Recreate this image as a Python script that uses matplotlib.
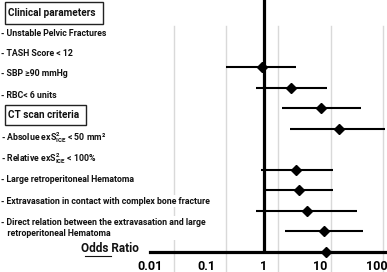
import matplotlib
matplotlib.use("Agg")
import matplotlib.pyplot as plt
from matplotlib.lines import Line2D
from matplotlib.patches import Rectangle

plt.rcParams['font.family'] = ['Roboto', 'DejaVu Sans']
plt.rcParams['font.weight'] = 'bold'
plt.rcParams['mathtext.fontset'] = 'custom'
plt.rcParams['mathtext.rm'] = 'Roboto:bold'
plt.rcParams['mathtext.it'] = 'Roboto:bold'
plt.rcParams['mathtext.bf'] = 'Roboto:bold'

# datos (odds ratio con IC 95%)
filas = [1, 2, 3, 4, 6, 7, 8, 9, 10]
odds = [0.95, 3.1, 10.3, 21.8, 3.8, 4.2, 5.8, 11.8, 12.7]
ic_inf = [0.22, 0.75, 2.13, 2.9, 0.92, 1.05, 0.75, 2.43, None]
ic_sup = [3.8, 13.1, 51.7, 138, 16.7, 16.7, 44, 57.6, None]

ticks = [0.01, 0.1, 1, 10, 100]
tick_labels = ['0.01', '0.1', '1', '10', '100']

clinicos = ['- Unstable Pelvic Fractures', '- TASH Score < 12',
            '- SBP \u226590 mmHg', '- RBC< 6 units']
criterios_tc = ['- Absolue exS$^{2}_{ICE}$ < 50 mm\u00b2',
                '- Relative exS$^{2}_{ICE}$ < 100%',
                '- Large retroperitoneal Hematoma',
                '- Extravasation in contact with complex bone fracture',
                '- Direct relation between the extravasation and large\n   retroperitoneal Hematoma']

# lineas de grilla (posicion en escala log)
grilla = [0.0264, 0.22, 1.83, 15.3, 127]

W, H = 387, 272
fig = plt.figure(figsize=(W / 100, H / 100), dpi=100)
ax = fig.add_axes([150 / W, 20 / H, 237 / W, 252 / H])

ax.set_xscale('log')
ax.set_xlim(10 ** (-113 / 57), 10 ** (124 / 57))
ax.set_ylim(10.02, 1 - 67 / 20.5)

for g in grilla:
    ax.axvline(g, ymin=-20 / 252, ymax=226 / 252, color='#d9d9d9', lw=1,
               clip_on=False, zorder=0)

ax.axvline(1, color='black', lw=2.3, zorder=2)

for y, o, lo, hi in zip(filas, odds, ic_inf, ic_sup):
    if lo is not None:
        ax.plot([lo, hi], [y, y], color='black', lw=1.5, zorder=3,
                solid_capstyle='butt')
    ax.plot(o, y, marker='D', color='black', markersize=5, zorder=4,
            clip_on=False)

for s in ['left', 'top', 'right']:
    ax.spines[s].set_visible(False)
ax.spines['bottom'].set_linewidth(2.3)
ax.set_yticks([])
ax.set_xticks(ticks)
ax.set_xticks([], minor=True)
ax.set_xticklabels(tick_labels, fontsize=9, fontweight='bold')
ax.tick_params(axis='x', length=0, pad=6)


def fy(py):
    return 1 - py / H


# encabezados con recuadro
for texto, py in [('Clinical parameters', 12.5), ('CT scan criteria', 115)]:
    fig.text(8 / W, fy(py), texto, fontsize=7.2, fontweight='bold',
             va='center', ha='left', color='#111111')

fig.add_artist(Rectangle((5 / W, fy(23.5)), 98 / W, 21.5 / H, transform=fig.transFigure,
                         fill=False, edgecolor='#222222', lw=1))
fig.add_artist(Rectangle((5 / W, fy(125)), 81 / W, 20 / H, transform=fig.transFigure,
                         fill=False, edgecolor='#222222', lw=1))

for texto, py in zip(clinicos, [34, 54, 74, 95]):
    fig.text(1 / W, fy(py), texto, fontsize=6.3, va='center', ha='left',
             color='#111111')

for texto, py in zip(criterios_tc, [138, 159, 179, 201, 228]):
    fig.text(1 / W, fy(py), texto, fontsize=6.3, va='center', ha='left',
             color='#111111', linespacing=1.35,
             bbox=dict(facecolor='white', edgecolor='none', pad=1))

fig.text(139 / W, fy(249), 'Odds Ratio', fontsize=8.5, ha='right', va='center',
         color='#111111')
fig.add_artist(Line2D([85 / W, 111 / W], [fy(256), fy(256)], transform=fig.transFigure,
                      color='#111111', lw=0.8))

fig.savefig('out.png', dpi=100)
